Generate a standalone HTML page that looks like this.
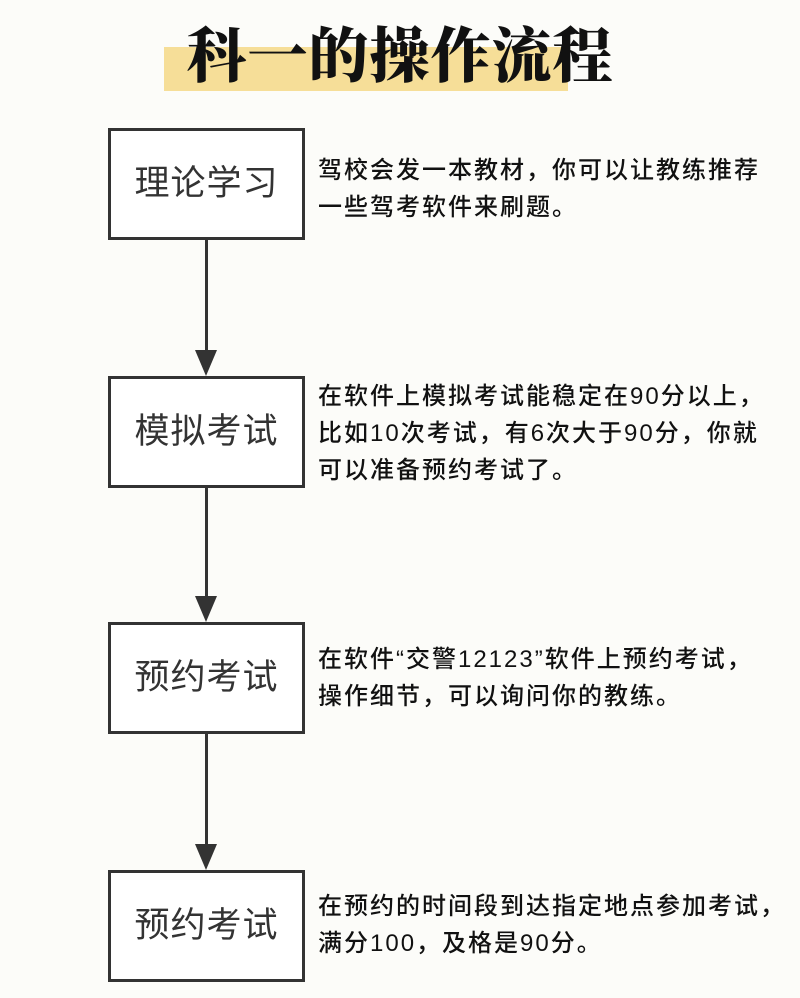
<!DOCTYPE html>
<html><head><meta charset="utf-8"><style>
body{margin:0;width:800px;height:998px;background:#fcfcf9;position:relative;overflow:hidden;font-family:"Liberation Sans","Noto Sans CJK SC",sans-serif;color:#222}
.hl{position:absolute;left:164px;top:47px;width:404px;height:44px;background:#f6de98}
.title{position:absolute;left:0;width:800px;top:12px;text-align:center;font-family:"Noto Serif CJK SC",serif;font-weight:900;font-size:60px;line-height:80px;color:#111;letter-spacing:1px}
.box{position:absolute;left:108px;width:191px;height:106px;border:3px solid #333;background:#fff;font-size:35px;line-height:106px;text-align:center;color:#333;letter-spacing:1px}
.d{position:absolute;left:318px;font-size:24px;line-height:37px;color:#111;font-weight:500;letter-spacing:2px;white-space:nowrap}
.ln{position:absolute;left:205px;width:3px;background:#333}
.ah{position:absolute;left:196px;width:0;height:0;border-left:11px solid transparent;border-right:11px solid transparent;border-top:26px solid #333;margin-left:-1px}
</style></head><body>
<div class="hl"></div>
<div class="title">科一的操作流程</div>
<div class="box" style="top:128px">理论学习</div>
<div class="box" style="top:376px">模拟考试</div>
<div class="box" style="top:622px">预约考试</div>
<div class="box" style="top:870px">预约考试</div>
<div class="ln" style="top:240px;height:112px"></div><div class="ah" style="top:350px"></div>
<div class="ln" style="top:488px;height:110px"></div><div class="ah" style="top:596px"></div>
<div class="ln" style="top:734px;height:112px"></div><div class="ah" style="top:844px"></div>
<div class="d" style="top:152px">驾校会发一本教材，你可以让教练推荐<br>一些驾考软件来刷题。</div>
<div class="d" style="top:378px">在软件上模拟考试能稳定在90分以上，<br>比如10次考试，有6次大于90分，你就<br>可以准备预约考试了。</div>
<div class="d" style="top:641px">在软件“交警12123”软件上预约考试，<br>操作细节，可以询问你的教练。</div>
<div class="d" style="top:888px">在预约的时间段到达指定地点参加考试，<br>满分100，及格是90分。</div>
</body></html>
